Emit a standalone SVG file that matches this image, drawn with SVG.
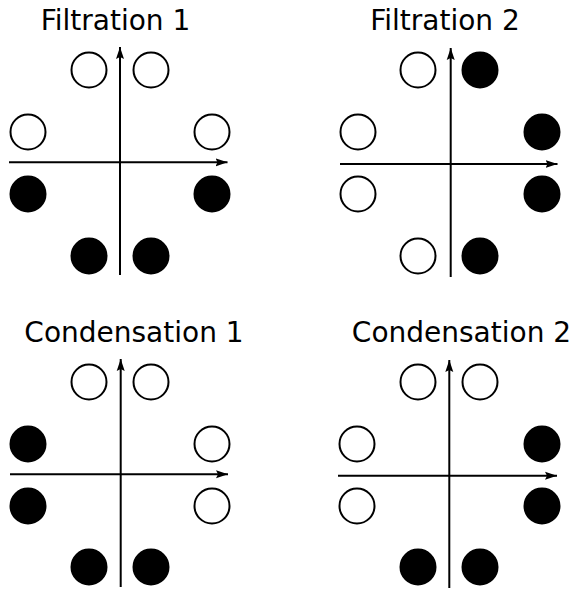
<svg xmlns="http://www.w3.org/2000/svg" width="573" height="590" viewBox="0 0 573 590">
<style>
.t{font-family:"DejaVu Sans",sans-serif;font-size:28px;fill:#000;text-anchor:middle}
.ax{stroke:#000;stroke-width:2;fill:none}
.o{fill:#fff;stroke:#000;stroke-width:2}
.f{fill:#000;stroke:#000;stroke-width:2}
</style>
<defs>
<marker id="arr" markerUnits="userSpaceOnUse" markerWidth="14" markerHeight="10" refX="12" refY="5" orient="auto">
<path d="M0,1 L12,5 L0,9 L2,5 Z" fill="#000"/>
</marker>
</defs>
<rect width="573" height="590" fill="#fff"/>
<g id="connectors">
<line class="ax" x1="120" y1="275" x2="120" y2="47" marker-end="url(#arr)"/>
<line class="ax" x1="9" y1="162.3" x2="227.5" y2="162.3" marker-end="url(#arr)"/>
<line class="ax" x1="450.7" y1="277" x2="450.7" y2="48" marker-end="url(#arr)"/>
<line class="ax" x1="340" y1="164" x2="557.5" y2="164" marker-end="url(#arr)"/>
<line class="ax" x1="120.7" y1="587" x2="120.7" y2="359" marker-end="url(#arr)"/>
<line class="ax" x1="10" y1="474.3" x2="228" y2="474.3" marker-end="url(#arr)"/>
<line class="ax" x1="449.3" y1="588" x2="449.3" y2="360" marker-end="url(#arr)"/>
<line class="ax" x1="338" y1="475.7" x2="557" y2="475.7" marker-end="url(#arr)"/>
</g>
<g id="filtration1">
<text class="t" x="115.5" y="29.5">Filtration 1</text>
<circle class="o" cx="89" cy="70" r="17.5"/>
<circle class="o" cx="151" cy="70" r="17.5"/>
<circle class="o" cx="28" cy="132" r="17.5"/>
<circle class="o" cx="212" cy="132" r="17.5"/>
<circle class="f" cx="28" cy="194" r="17.5"/>
<circle class="f" cx="212" cy="194" r="17.5"/>
<circle class="f" cx="89" cy="256" r="17.5"/>
<circle class="f" cx="151" cy="256" r="17.5"/>
</g>
<g id="filtration2">
<text class="t" x="445" y="29.5">Filtration 2</text>
<circle class="o" cx="418" cy="70" r="17.5"/>
<circle class="f" cx="480" cy="70" r="17.5"/>
<circle class="o" cx="358" cy="132" r="17.5"/>
<circle class="f" cx="542" cy="132" r="17.5"/>
<circle class="o" cx="358" cy="194" r="17.5"/>
<circle class="f" cx="542" cy="194" r="17.5"/>
<circle class="o" cx="418" cy="256" r="17.5"/>
<circle class="f" cx="480" cy="256" r="17.5"/>
</g>
<g id="condensation1">
<text class="t" x="134" y="341.5">Condensation 1</text>
<circle class="o" cx="89" cy="382" r="17.5"/>
<circle class="o" cx="151" cy="382" r="17.5"/>
<circle class="f" cx="28" cy="444" r="17.5"/>
<circle class="o" cx="212" cy="444" r="17.5"/>
<circle class="f" cx="28" cy="506" r="17.5"/>
<circle class="o" cx="212" cy="506" r="17.5"/>
<circle class="f" cx="89" cy="567" r="17.5"/>
<circle class="f" cx="151" cy="567" r="17.5"/>
</g>
<g id="condensation2">
<text class="t" x="461.5" y="341.5">Condensation 2</text>
<circle class="o" cx="418" cy="382" r="17.5"/>
<circle class="o" cx="480" cy="382" r="17.5"/>
<circle class="o" cx="357" cy="444" r="17.5"/>
<circle class="f" cx="542" cy="444" r="17.5"/>
<circle class="o" cx="357" cy="506" r="17.5"/>
<circle class="f" cx="542" cy="506" r="17.5"/>
<circle class="f" cx="418" cy="567" r="17.5"/>
<circle class="f" cx="480" cy="567" r="17.5"/>
</g>
</svg>
